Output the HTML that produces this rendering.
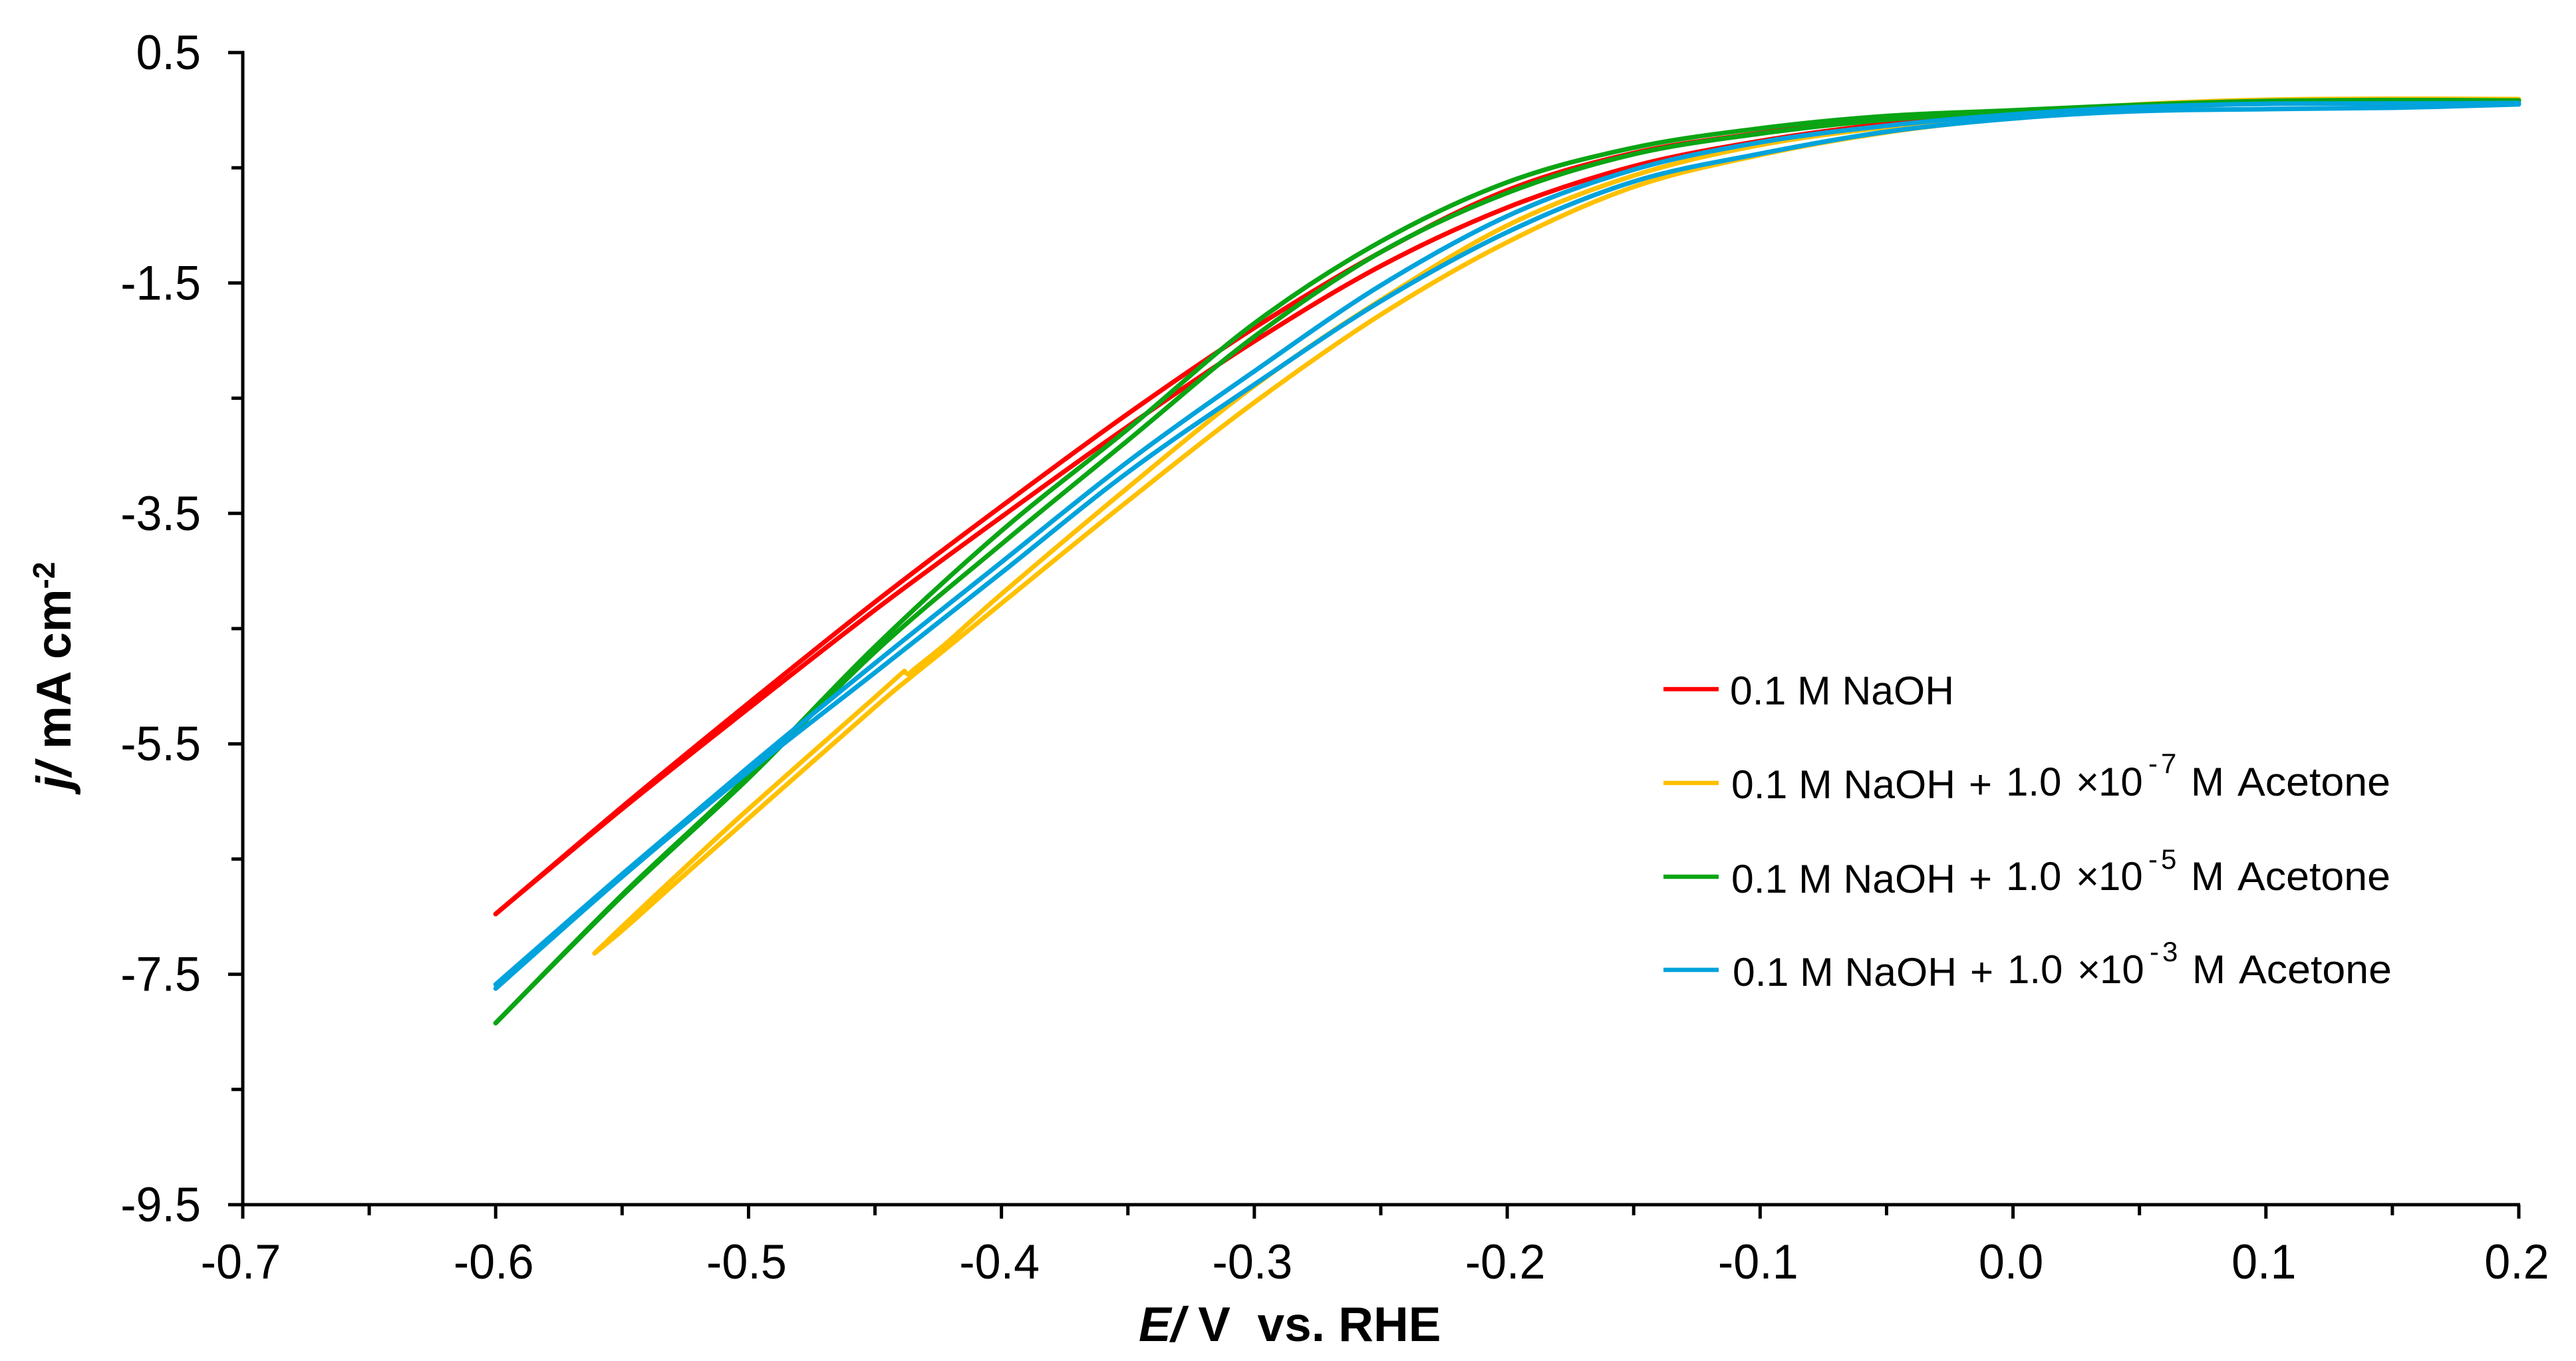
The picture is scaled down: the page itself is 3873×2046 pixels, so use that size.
<!DOCTYPE html>
<html lang="en">
<head>
<meta charset="utf-8">
<title>Polarisation curves in NaOH with acetone</title>
<style>
html,body{margin:0;padding:0;background:#fff;}
svg{display:block;}
text{font-family:"Liberation Sans",Arial,sans-serif;fill:#000;}
.tick{font-size:73px;}
.axis-title{font-size:73px;font-weight:bold;}
.leg{font-size:60px;}
.sup{font-size:42px;letter-spacing:5px;}
</style>
</head>
<body>
<svg id="chart" xmlns="http://www.w3.org/2000/svg" width="3873" height="2046" viewBox="0 0 3873 2046">
  <rect x="0" y="0" width="3873" height="2046" fill="#ffffff"/>
  <g id="ticks"></g>
  <g id="axes"></g>
  <g id="series"></g>

  <text class="axis-title" x="1712" y="2016" xml:space="preserve"><tspan font-style="italic">E/</tspan> V  vs. RHE</text>
  <text class="axis-title" transform="translate(106,1187) rotate(-90)" xml:space="preserve"><tspan font-style="italic">j/</tspan> mA cm<tspan font-size="46" dy="-24">-2</tspan></text>

  <g>
    <line x1="2501" x2="2584" y1="1036" y2="1036" stroke="#ff0000" stroke-width="6.5"/>
    <text class="leg" x="2601" y="1059" textLength="337" lengthAdjust="spacingAndGlyphs">0.1 M NaOH</text>

    <line x1="2501" x2="2584" y1="1177" y2="1177" stroke="#ffc000" stroke-width="6.5"/>
    <g>
      <text class="leg" x="2603" y="1200" textLength="337" lengthAdjust="spacingAndGlyphs">0.1 M NaOH</text>
      <text class="leg" x="2960" y="1200">+</text>
      <text class="leg" x="3016" y="1196">1.0</text>
      <text class="leg" x="3121" y="1196">×</text>
      <text class="leg" x="3155" y="1196">10</text>
      <text class="sup" x="3230" y="1162">-7</text>
      <text class="leg" x="3294" y="1196">M</text>
      <text class="leg" x="3364" y="1196" textLength="230" lengthAdjust="spacingAndGlyphs">Acetone</text>
    </g>

    <line x1="2501" x2="2584" y1="1318" y2="1318" stroke="#0aa514" stroke-width="6.5"/>
    <g>
      <text class="leg" x="2603" y="1342" textLength="337" lengthAdjust="spacingAndGlyphs">0.1 M NaOH</text>
      <text class="leg" x="2960" y="1342">+</text>
      <text class="leg" x="3016" y="1338">1.0</text>
      <text class="leg" x="3121" y="1338">×</text>
      <text class="leg" x="3155" y="1338">10</text>
      <text class="sup" x="3230" y="1306">-5</text>
      <text class="leg" x="3294" y="1338">M</text>
      <text class="leg" x="3364" y="1338" textLength="230" lengthAdjust="spacingAndGlyphs">Acetone</text>
    </g>

    <line x1="2501" x2="2584" y1="1458" y2="1458" stroke="#00a3dc" stroke-width="6.5"/>
    <g>
      <text class="leg" x="2605" y="1482" textLength="337" lengthAdjust="spacingAndGlyphs">0.1 M NaOH</text>
      <text class="leg" x="2962" y="1482">+</text>
      <text class="leg" x="3018" y="1478">1.0</text>
      <text class="leg" x="3123" y="1478">×</text>
      <text class="leg" x="3157" y="1478">10</text>
      <text class="sup" x="3232" y="1445">-3</text>
      <text class="leg" x="3296" y="1478">M</text>
      <text class="leg" x="3366" y="1478" textLength="230" lengthAdjust="spacingAndGlyphs">Acetone</text>
    </g>
  </g>
</svg>
<script>
/* Tick values and labels */
const xMajorTicks = ["-0.7","-0.6","-0.5","-0.4","-0.3","-0.2","-0.1","0.0","0.1","0.2"];
const xMinorTicks = [-0.65,-0.55,-0.45,-0.35,-0.25,-0.15,-0.05,0.05,0.15];
const yMajorTicks = ["0.5","-1.5","-3.5","-5.5","-7.5","-9.5"];
const yMinorTicks = [-0.5,-2.5,-4.5,-6.5,-8.5];

/* Shared potential grid (V vs. RHE) */
const potential = [-0.6,-0.55,-0.5,-0.45,-0.4,-0.35,-0.3,-0.25,-0.2,-0.15,-0.1,-0.05,0,0.05,0.1,0.15,0.2];

/* 0.1 M NaOH, current density mA cm-2 */
const naohUpper = [-6.977,-6.047,-5.147,-4.269,-3.438,-2.635,-1.890,-1.232,-0.695,-0.372,-0.199,-0.072,-0.008,0.038,0.073,0.081,0.084];
const naohLower = [-6.977,-6.065,-5.193,-4.338,-3.530,-2.745,-2.006,-1.353,-0.845,-0.487,-0.268,-0.118,-0.025,0.021,0.061,0.073,0.084];

/* + 1.0e-7 M acetone (shorter sweep, with a step near -0.44 V) */
const acetone7UpperE = [-0.5609,-0.55,-0.5285,-0.5,-0.45,-0.4394,-0.4383,-0.4365,-0.4351,-0.4215,-0.4,-0.35,-0.3,-0.25,-0.2,-0.15,-0.1,-0.05,0,0.05,0.1,0.15,0.2];
const acetone7Upper = [-7.318,-7.087,-6.642,-6.065,-5.095,-4.887,-4.878,-4.898,-4.864,-4.621,-4.200,-3.276,-2.393,-1.648,-1.001,-0.568,-0.303,-0.147,-0.037,0.050,0.090,0.099,0.096];
const acetone7LowerE = [-0.5609,-0.55,-0.5285,-0.5,-0.45,-0.4362,-0.4215,-0.4,-0.35,-0.3,-0.25,-0.2,-0.15,-0.1,-0.05,0,0.05,0.1,0.15,0.2];
const acetone7Lower = [-7.318,-7.121,-6.700,-6.146,-5.181,-4.927,-4.667,-4.281,-3.392,-2.537,-1.775,-1.146,-0.666,-0.389,-0.193,-0.066,0.015,0.061,0.084,0.090];

/* + 1.0e-5 M acetone */
const acetone5Upper = [-7.924,-6.810,-5.776,-4.656,-3.651,-2.768,-1.850,-1.140,-0.626,-0.326,-0.158,-0.051,-0.002,0.047,0.079,0.087,0.084];
const acetone5Lower = [-7.924,-6.821,-5.799,-4.702,-3.767,-2.866,-1.965,-1.232,-0.718,-0.383,-0.204,-0.083,-0.020,0.032,0.067,0.079,0.084];

/* + 1.0e-3 M acetone */
const acetone3Upper = [-7.589,-6.631,-5.701,-4.800,-3.923,-3.051,-2.266,-1.521,-0.920,-0.516,-0.279,-0.135,-0.037,0.027,0.055,0.058,0.061];
const acetone3Lower = [-7.624,-6.654,-5.741,-4.881,-4.015,-3.143,-2.381,-1.659,-1.059,-0.620,-0.378,-0.187,-0.072,-0.008,0.009,0.021,0.050];

const X0 = 365, X1 = 3787, Y0 = 79, Y1 = 1811;
function xScale(e){ return X0 + (e + 0.7) / 0.9 * (X1 - X0); }
function yScale(j){ return Y0 + (0.5 - j) / 10 * (Y1 - Y0); }

const NS = "http://www.w3.org/2000/svg";
const ticksG = document.getElementById("ticks");
const axesG = document.getElementById("axes");
const seriesG = document.getElementById("series");

function mk(tag, attrs, parent){
  const el = document.createElementNS(NS, tag);
  for (const k in attrs) el.setAttribute(k, attrs[k]);
  parent.appendChild(el);
  return el;
}

/* condense a tick label slightly: the reference digits are tall and narrow */
function condense(el){
  el.setAttribute("textLength", (el.getComputedTextLength() * 0.96).toFixed(1));
  el.setAttribute("lengthAdjust", "spacingAndGlyphs");
}

/* axis lines */
const yAxisLine = mk("line", {x1:X0, x2:X0, y1:Y0 - 2.5, y2:Y1, stroke:"#000", "stroke-width":5}, axesG);


const xAxisLine = mk("line", {x1:X0, x2:X1 + 2, y1:Y1, y2:Y1, stroke:"#000", "stroke-width":5}, axesG);



/* x ticks */
xMajorTicks.forEach(function(label){
  const v = parseFloat(label), x = xScale(v);
  const t = mk("line", {x1:x, x2:x, y1:Y1, y2:Y1 + 21, stroke:"#000", "stroke-width":5}, ticksG);
  
  
  const s = mk("text", {x:x - 3, y:1922, "text-anchor":"middle", class:"tick"}, ticksG);
  
  
  s.textContent = label;
  condense(s);
});
xMinorTicks.forEach(function(v){
  const x = xScale(v);
  const t = mk("line", {x1:x, x2:x, y1:Y1, y2:Y1 + 16, stroke:"#000", "stroke-width":5}, ticksG);
  
  
});

/* y ticks */
yMajorTicks.forEach(function(label){
  const v = parseFloat(label), y = yScale(v);
  const t = mk("line", {x1:X0 - 22, x2:X0, y1:y, y2:y, stroke:"#000", "stroke-width":5}, ticksG);
  
  
  const s = mk("text", {x:302, y:y + 25, "text-anchor":"end", class:"tick"}, ticksG);
  
  
  s.textContent = label;
  condense(s);
});
yMinorTicks.forEach(function(v){
  const y = yScale(v);
  const t = mk("line", {x1:X0 - 17, x2:X0, y1:y, y2:y, stroke:"#000", "stroke-width":5}, ticksG);
  
  
});

/* smooth path through the data points */
function curvePath(es, js){
  const p = es.map(function(e, i){ return [xScale(e), yScale(js[i])]; });
  let d = "M" + p[0][0].toFixed(1) + " " + p[0][1].toFixed(1);
  for (let i = 0; i < p.length - 1; i++){
    const a = p[Math.max(i - 1, 0)], b = p[i], c = p[i + 1], e = p[Math.min(i + 2, p.length - 1)];
    const c1x = b[0] + (c[0] - a[0]) / 6, c1y = b[1] + (c[1] - a[1]) / 6;
    const c2x = c[0] - (e[0] - b[0]) / 6, c2y = c[1] - (e[1] - b[1]) / 6;
    d += "C" + c1x.toFixed(1) + " " + c1y.toFixed(1) + " " + c2x.toFixed(1) + " " + c2y.toFixed(1) + " " + c[0].toFixed(1) + " " + c[1].toFixed(1);
  }
  return d;
}

function drawBranch(name, es, js, color){
  const path = mk("path", {d:curvePath(es, js), fill:"none", stroke:color, "stroke-width":7, "stroke-linecap":"round", "stroke-linejoin":"round"}, seriesG);
  
  
}

drawBranch("naoh-curve-upper", potential, naohUpper, "#ff0000");
drawBranch("naoh-curve-lower", potential, naohLower, "#ff0000");
drawBranch("acetone-1e-7-curve-upper", acetone7UpperE, acetone7Upper, "#ffc000");
drawBranch("acetone-1e-7-curve-lower", acetone7LowerE, acetone7Lower, "#ffc000");
drawBranch("acetone-1e-5-curve-upper", potential, acetone5Upper, "#0aa514");
drawBranch("acetone-1e-5-curve-lower", potential, acetone5Lower, "#0aa514");
drawBranch("acetone-1e-3-curve-upper", potential, acetone3Upper, "#00a3dc");
drawBranch("acetone-1e-3-curve-lower", potential, acetone3Lower, "#00a3dc");
</script>
</body>
</html>
